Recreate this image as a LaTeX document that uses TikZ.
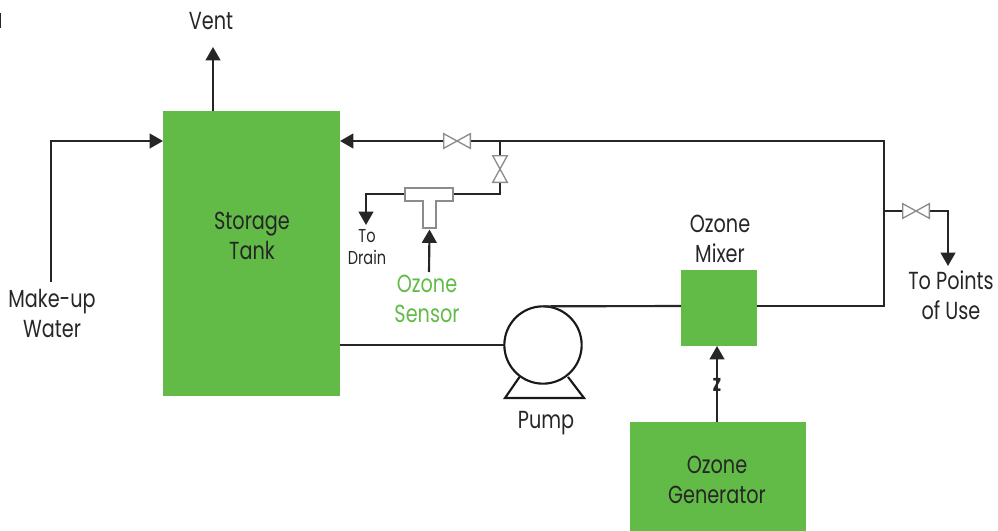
\documentclass[tikz,border=0pt]{standalone}
\usepackage{fontspec}
\setmainfont[FakeStretch=0.78]{Poppins}
\usetikzlibrary{arrows.meta}
\definecolor{grn}{HTML}{62BB47}
\definecolor{txt}{HTML}{262626}
\tikzset{
  box/.style={fill=grn,draw=none,inner sep=0pt,outer sep=0pt},
  lbl/.style={text=txt,align=center,inner sep=0pt,font=\fontsize{18.5}{22.5}\selectfont},
  small/.style={text=txt,align=center,inner sep=0pt,font=\fontsize{14}{17}\selectfont},
  pipe/.style={draw=black!85,line width=1.6pt},
  flow/.style={pipe,-{Triangle[length=10pt,width=11pt]}},
  valvebox/.style={inner sep=0pt,outer sep=0pt,minimum width=20pt,minimum height=11pt},
  valveboxv/.style={inner sep=0pt,outer sep=0pt,minimum width=11pt,minimum height=20pt},
  valve/.style={draw=black!45,line width=1pt,fill=white,line join=miter},
}
\begin{document}
\begin{tikzpicture}[x=0.75pt,y=-0.75pt]
\useasboundingbox (0,0) rectangle (998,531);
% free ends
\coordinate (mkstart) at (51,282);
\coordinate (mkbend) at (51,141);
\coordinate (ventend) at (213,47);
\coordinate (loopcorner) at (884,141);
\coordinate (loopdown) at (884,306);
\coordinate (branch) at (500,141);
\coordinate (branchbend) at (500,194);
\coordinate (drainbend) at (366,194);
\coordinate (drainend) at (366,225);
\coordinate (sensorstart) at (429,272);
\coordinate (usetap) at (884,211);
\coordinate (usebend) at (948,211);
\coordinate (useend) at (948,266);
\coordinate (teeL) at (405,194);
\coordinate (teeR) at (453,194);
\coordinate (teeB) at (429.5,229.5);
% boxes
\node[box,minimum width=132.75pt,minimum height=213.75pt] (tank) at (251.5,253.5) {};
\node[box,minimum width=57pt,minimum height=57pt] (mixer) at (719,308) {};
\path[fill=grn] (630,422) rectangle (806,531);
\coordinate (gentop) at (717,422);
% pump
\node[circle,draw=black!90,line width=1.6pt,fill=white,minimum size=58pt,inner sep=0pt,outer sep=0pt] (pump) at (543,345) {};
\draw[line width=1.6pt,draw=black!90,line join=miter] (519.5,377) -- (505,398) -- (584,398) -- (568,377);
% valves
\node[valvebox] (v1) at (457,141) {};
\node[valveboxv] (v2) at (500,169) {};
\node[valvebox] (v3) at (916,211) {};
% pipes
\draw[flow] (mkstart) -- (mkbend) -- (tank.west |- mkbend);
\draw[flow] (tank.north -| ventend) -- (ventend);
\draw[pipe] (tank.east |- pump.west) -- (pump.west);
\draw[pipe] (pump.north) -- (mixer.west |- loopdown);
\draw[pipe] (mixer.east |- loopdown) -- (loopdown) -- (loopcorner) -- (branch);
\draw[flow] (branch) -- (v1) -- (tank.east |- mkbend);
\draw[pipe] (branch) -- (v2) -- (branchbend) -- (teeR);
\draw[flow] (teeL) -- (drainbend) -- (drainend);
\draw[flow] (sensorstart) -- (teeB);
\draw[pipe] (usetap) -- (v3);
\draw[flow] (v3) -- (usebend) -- (useend);
\draw[flow] (gentop) -- (mixer.south -| gentop);
% valve symbols
\foreach \v in {v1,v3}
  \draw[valve] (\v.north west) -- (\v.south east) -- (\v.north east) -- (\v.south west) -- cycle;
\draw[valve] (v2.north west) -- (v2.north east) -- (v2.south west) -- (v2.south east) -- cycle;
% tee
\draw[draw=black!45,line width=1pt,fill=white] (405,188) -- (453,188) -- (453,201) -- (436,201) -- (436,228) -- (423,228) -- (423,201) -- (405,201) -- cycle;
% labels
\node[lbl] (vent) at (211,21) {Vent};
\node[lbl] (tanklbl) at (252,236) {Storage\\Tank};
\node[lbl] (mk) at (52,313) {Make-up\\Water};
\node[small] (drain) at (367,247) {To\\Drain};
\node[lbl,text=grn] (sensor) at (427,299) {Ozone\\Sensor};
\node[lbl] (mixlbl) at (720,239) {Ozone\\Mixer};
\node[lbl] (poi) at (951,295) {To Points\\of Use};
\node[lbl] (pumplbl) at (546,423) {Pump};
\node[lbl] (genlbl) at (717,480) {Ozone\\Generator};
\node[text=txt,inner sep=0pt,font=\fontsize{14}{14}\selectfont\bfseries] (z) at (717,385) {Z};
\path[fill=txt] (0,13) rectangle (1.2,28);
\end{tikzpicture}
\end{document}
